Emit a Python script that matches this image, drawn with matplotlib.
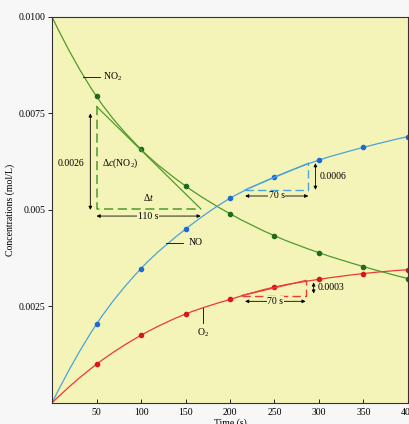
import numpy as np
import matplotlib
matplotlib.use("Agg")
from matplotlib import pyplot as plt
from matplotlib.path import Path
from matplotlib.patches import PathPatch

times = [0, 50, 100, 150, 200, 250, 300, 350, 400]
no2 = [0.0100, 0.00794, 0.00657, 0.00562, 0.00490, 0.00433, 0.00389, 0.00353, 0.00322]
no = [0.0, 0.00204, 0.00348, 0.00450, 0.00530, 0.00585, 0.00629, 0.00662, 0.00690]
o2 = [0.0, 0.00100, 0.00175, 0.00230, 0.00268, 0.00300, 0.00320, 0.00335, 0.00345]

xticks = [50, 100, 150, 200, 250, 300, 350, 400]
yticks = [0.0025, 0.005, 0.0075, 0.0100]
ytick_labels = ["0.0025", "0.005", "0.0075", "0.0100"]

# tangent triangles: (x0, y0, x1, y1)
tri_no2 = (50, 0.00768, 167, 0.00503)
tri_no = (217, 0.00552, 288, 0.00621)
tri_o2 = (213, 0.00278, 285, 0.00317)

BG = "#f5f4b8"
GREEN, GREEN_D = "#4f9a2c", "#1d6b1d"
BLUE, BLUE_D = "#4aa3d8", "#1f6ad0"
RED, RED_D = "#ec3a32", "#d8161c"
FS = 7

plt.rcParams["font.family"] = ["Liberation Serif", "DejaVu Serif"]
plt.rcParams["mathtext.fontset"] = "custom"
plt.rcParams["mathtext.rm"] = "Liberation Serif"
plt.rcParams["mathtext.it"] = "Liberation Serif:italic"


def smooth(ax, x, y, color):
    # catmull-rom through the points, drawn as bezier segments
    pts = np.column_stack([np.asarray(x, float), np.asarray(y, float)])
    n = len(pts)
    tang = np.zeros_like(pts)
    tang[1:-1] = (pts[2:] - pts[:-2]) / 2
    tang[0] = (-3 * pts[0] + 4 * pts[1] - pts[2]) / 2
    tang[-1] = (3 * pts[-1] - 4 * pts[-2] + pts[-3]) / 2
    verts = [pts[0]]
    codes = [Path.MOVETO]
    for i in range(n - 1):
        verts += [pts[i] + tang[i] / 3, pts[i + 1] - tang[i + 1] / 3, pts[i + 1]]
        codes += [Path.CURVE4] * 3
    ax.add_patch(PathPatch(Path(verts, codes), fill=False, edgecolor=color, lw=0.9))


def darrow(ax, xy0, xy1):
    ax.annotate("", xy=xy1, xytext=xy0,
                arrowprops=dict(arrowstyle="<|-|>", color="black", lw=0.6,
                                mutation_scale=5, shrinkA=0, shrinkB=0))


fig = plt.figure(figsize=(4.1, 4.24), dpi=100, facecolor="#f7f7f7")
ax = fig.add_axes([0.127, 0.05, 0.868, 0.91])
ax.set_facecolor(BG)

smooth(ax, times, no2, GREEN)
smooth(ax, times, no, BLUE)
smooth(ax, times, o2, RED)
ax.plot(times[1:], no2[1:], "o", color=GREEN_D, ms=3)
ax.plot(times[1:], no[1:], "o", color=BLUE_D, ms=3)
ax.plot(times[1:], o2[1:], "o", color=RED_D, ms=3)

dash = (0, (6, 3))

# NO2 tangent triangle
x0, y0, x1, y1 = tri_no2
ax.plot([x0, x1], [y0, y1], color=GREEN, lw=0.9)
ax.plot([x0, x0, x1], [y0, y1, y1], color=GREEN, lw=1.1, ls=dash)
darrow(ax, (43, 0.0075), (43, 0.00500))
ax.text(36, 0.0062, "0.0026", fontsize=FS, ha="right", va="center")
ax.text(56, 0.0062, r"$\Delta$$\it{c}$(NO$_2$)", fontsize=FS, ha="left", va="center")
ax.text(108, 0.00518, r"$\Delta$$\it{t}$", fontsize=FS, ha="center", va="bottom")
darrow(ax, (50, 0.00484), (167, 0.00484))
ax.text(108, 0.00484, "110 s", fontsize=FS, ha="center", va="center",
        bbox=dict(fc=BG, ec="none", pad=0.5))

# NO tangent triangle
x0, y0, x1, y1 = tri_no
ax.plot([x0, x1], [y0, y1], color=BLUE, lw=0.9)
ax.plot([x0, x1, x1], [y0, y0, y1], color=BLUE, lw=1.0, ls=dash)
darrow(ax, (296, y1), (296, y0))
ax.text(301, (y0 + y1) / 2, "0.0006", fontsize=FS, ha="left", va="center")
darrow(ax, (x0, 0.00536), (x1, 0.00536))
ax.text((x0 + x1) / 2, 0.00536, "70 s", fontsize=FS, ha="center", va="center",
        bbox=dict(fc=BG, ec="none", pad=0.5))

# O2 tangent triangle
x0, y0, x1, y1 = tri_o2
ax.plot([x0, x1], [y0, y1], color=RED, lw=0.9)
ax.plot([x0, x1, x1], [y0, y0, y1], color=RED, lw=1.0, ls=dash)
darrow(ax, (294, 0.00312), (294, 0.00283))
ax.text(299, 0.00298, "0.0003", fontsize=FS, ha="left", va="center")
darrow(ax, (217, 0.00263), (285, 0.00263))
ax.text(251, 0.00263, "70 s", fontsize=FS, ha="center", va="center",
        bbox=dict(fc=BG, ec="none", pad=0.5))

# curve labels
ax.plot([35, 54], [0.00845, 0.00845], color="black", lw=0.6)
ax.text(57, 0.00845, "NO$_2$", fontsize=FS, ha="left", va="center")
ax.plot([128, 147], [0.00415, 0.00415], color="black", lw=0.6)
ax.text(153, 0.00415, "NO", fontsize=FS, ha="left", va="center")
ax.plot([170, 170], [0.00245, 0.00207], color="black", lw=0.6)
ax.text(170, 0.00198, "O$_2$", fontsize=FS, ha="center", va="top")

ax.set_xlim(0, 400)
ax.set_ylim(0, 0.0100)
ax.set_xticks(xticks)
ax.set_yticks(yticks)
ax.set_yticklabels(ytick_labels)
ax.tick_params(axis="x", direction="in", length=3, width=0.6, labelsize=FS, pad=4)
ax.tick_params(axis="y", direction="out", length=3, width=0.6, labelsize=FS, pad=2)
for s in ax.spines.values():
    s.set_linewidth(0.8)
    s.set_color("#333333")
ax.set_ylabel("Concentrations (mol/L)", fontsize=FS, labelpad=2)
ax.set_xlabel("Time (s)", fontsize=FS, labelpad=1)

fig.savefig("out.png", dpi=100, facecolor=fig.get_facecolor())
